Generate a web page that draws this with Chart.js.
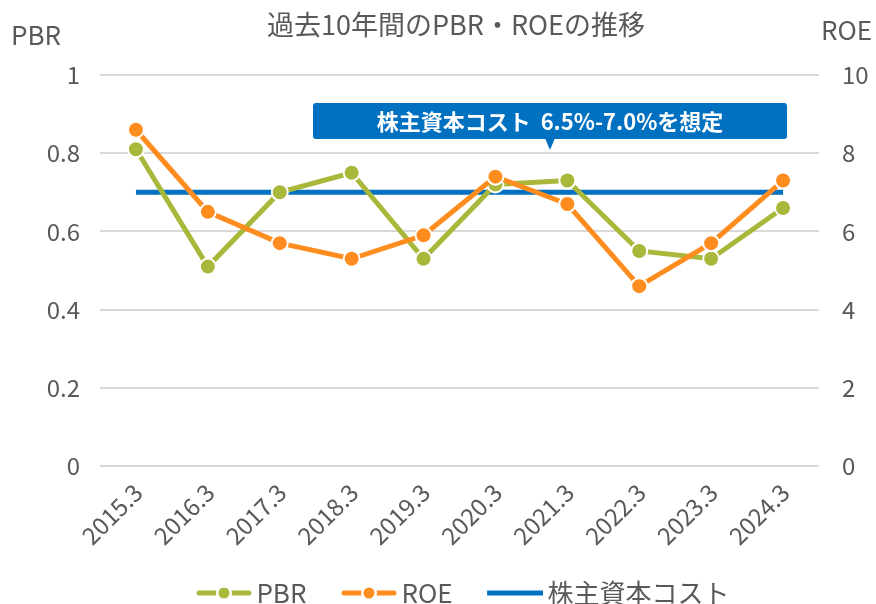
<!DOCTYPE html>
<html>
<head>
<meta charset="utf-8">
<script src="https://cdn.jsdelivr.net/npm/chart.js@4"></script>
<style>
  html, body { margin: 0; padding: 0; background: #fff; }
  #wrap { width: 876px; height: 604px; }
</style>
</head>
<body>
<div id="wrap"><canvas id="pbrRoeChart" width="876" height="604"></canvas></div>
<script>
// data
const years = ['2015.3', '2016.3', '2017.3', '2018.3', '2019.3', '2020.3', '2021.3', '2022.3', '2023.3', '2024.3'];
const pbr = [0.81, 0.51, 0.70, 0.75, 0.53, 0.72, 0.73, 0.55, 0.53, 0.66];
const roe = [8.6, 6.5, 5.7, 5.3, 5.9, 7.4, 6.7, 4.6, 5.7, 7.3];
const costOfEquity = [0.70, 0.70, 0.70, 0.70, 0.70, 0.70, 0.70, 0.70, 0.70, 0.70];

const GREEN = '#A9B83A';
const ORANGE = '#FF8C1F';
const BLUE = '#0070C0';
const TEXT = '#595959';
const FONT = "'Noto Sans CJK JP', 'Noto Sans', sans-serif";

// legend symbols: blank space on the left (gap to previous item), then line with a dot
const SYM_GAP = 26;
const legendSymbol = (color, withDot) => {
    const c = document.createElement('canvas');
    c.width = SYM_GAP + 56;
    c.height = 16;
    const g = c.getContext('2d');
    const x0 = SYM_GAP;
    g.strokeStyle = color;
    g.lineWidth = 5;
    g.lineCap = withDot ? 'round' : 'butt';
    g.beginPath();
    g.moveTo(x0 + (withDot ? 3 : 0), 8);
    g.lineTo(x0 + (withDot ? 53 : 56), 8);
    g.stroke();
    if (withDot) {
        g.fillStyle = '#fff';
        g.beginPath();
        g.arc(x0 + 28, 8, 8, 0, Math.PI * 2);
        g.fill();
        g.fillStyle = color;
        g.beginPath();
        g.arc(x0 + 28, 8, 5.5, 0, Math.PI * 2);
        g.fill();
    }
    return c;
};

// nudge the legend row down / right to where it sits in the original
const legendNudge = {
    id: 'legendNudge',
    afterLayout(chart) {
        const lg = chart.legend;
        const dy = 563 - lg.top;
        const dx = 16;
        lg.top += dy;
        lg.bottom += dy;
        lg.left += dx;
        lg.right += dx;
    }
};

// title, axis captions and the callout box
const extras = {
    id: 'extras',
    afterDraw(chart) {
        const ctx = chart.ctx;
        ctx.save();
        ctx.fillStyle = TEXT;
        ctx.textBaseline = 'middle';
        ctx.font = '27px ' + FONT;
        ctx.textAlign = 'center';
        ctx.fillText('過去10年間のPBR・ROEの推移', 456, 25);
        ctx.font = '26px ' + FONT;
        ctx.textAlign = 'left';
        ctx.fillText('PBR', 11, 35);
        ctx.fillText('ROE', 821, 30);

        // callout
        const left = 313, right = 787, top = 103, bottom = 139;
        const cx = (left + right) / 2;
        ctx.fillStyle = BLUE;
        ctx.beginPath();
        ctx.roundRect(left, top, right - left, bottom - top, 3);
        ctx.fill();
        ctx.beginPath();
        ctx.moveTo(cx - 5, bottom - 1);
        ctx.lineTo(cx + 5, bottom - 1);
        ctx.lineTo(cx, bottom + 11);
        ctx.closePath();
        ctx.fill();
        ctx.fillStyle = '#fff';
        ctx.font = 'bold 22px ' + FONT;
        ctx.textAlign = 'center';
        ctx.fillText('株主資本コスト  6.5%-7.0%を想定', cx, (top + bottom) / 2 + 1);
        ctx.restore();
    }
};

const tickText = (value) => String(Math.round(value * 10) / 10);

const ctx = document.getElementById('pbrRoeChart');
new Chart(ctx, {
    type: 'line',
    data: {
        labels: years,
        datasets: [
            {
                label: 'PBR',
                data: pbr,
                yAxisID: 'y',
                borderColor: GREEN,
                backgroundColor: GREEN,
                borderWidth: 5,
                pointRadius: 8,
                pointBorderWidth: 2,
                pointBorderColor: '#fff',
                pointBackgroundColor: GREEN,
                order: 1,
                symbol: legendSymbol(GREEN, true)
            },
            {
                label: 'ROE',
                data: roe,
                yAxisID: 'y1',
                borderColor: ORANGE,
                backgroundColor: ORANGE,
                borderWidth: 5,
                pointRadius: 8,
                pointBorderWidth: 2,
                pointBorderColor: '#fff',
                pointBackgroundColor: ORANGE,
                order: 0,
                symbol: legendSymbol(ORANGE, true)
            },
            {
                label: '株主資本コスト',
                data: costOfEquity,
                yAxisID: 'y',
                borderColor: BLUE,
                backgroundColor: BLUE,
                borderWidth: 5,
                pointRadius: 0,
                order: 2,
                symbol: legendSymbol(BLUE, false)
            }
        ]
    },
    options: {
        responsive: false,
        animation: false,
        layout: { padding: { top: 75, left: 0, right: 0, bottom: 0 } },
        plugins: {
            title: { display: false },
            tooltip: { enabled: false },
            legend: {
                position: 'bottom',
                labels: {
                    usePointStyle: true,
                    pointStyleWidth: 65,
                    padding: 17,
                    color: TEXT,
                    font: { family: FONT, size: 26 },
                    generateLabels: (chart) => chart.data.datasets.map((ds, i) => ({
                        text: ds.label,
                        pointStyle: ds.symbol,
                        fillStyle: ds.borderColor,
                        strokeStyle: ds.borderColor,
                        lineWidth: 0,
                        fontColor: TEXT,
                        datasetIndex: i
                    })),
                    sort: (a, b) => a.datasetIndex - b.datasetIndex
                }
            }
        },
        scales: {
            x: {
                offset: true,
                grid: { display: false },
                border: { display: false },
                ticks: {
                    color: TEXT,
                    font: { family: FONT, size: 24 },
                    minRotation: 45,
                    maxRotation: 45,
                    labelOffset: 2,
                    padding: 4
                },
                afterFit: (scale) => { scale.height = 85; }
            },
            y: {
                position: 'left',
                min: 0,
                max: 1,
                grid: { color: '#D9D9D9', lineWidth: 2, drawTicks: false },
                border: { display: false },
                ticks: {
                    stepSize: 0.2,
                    color: TEXT,
                    padding: 20,
                    font: { family: FONT, size: 24 },
                    callback: tickText
                },
                afterFit: (scale) => { scale.width = 100; }
            },
            y1: {
                position: 'right',
                min: 0,
                max: 10,
                grid: { display: false },
                border: { display: false },
                ticks: {
                    stepSize: 2,
                    color: TEXT,
                    padding: 15,
                    font: { family: FONT, size: 24 },
                    callback: tickText
                },
                afterFit: (scale) => { scale.width = 57; }
            }
        }
    },
    plugins: [legendNudge, extras]
});
</script>
</body>
</html>
